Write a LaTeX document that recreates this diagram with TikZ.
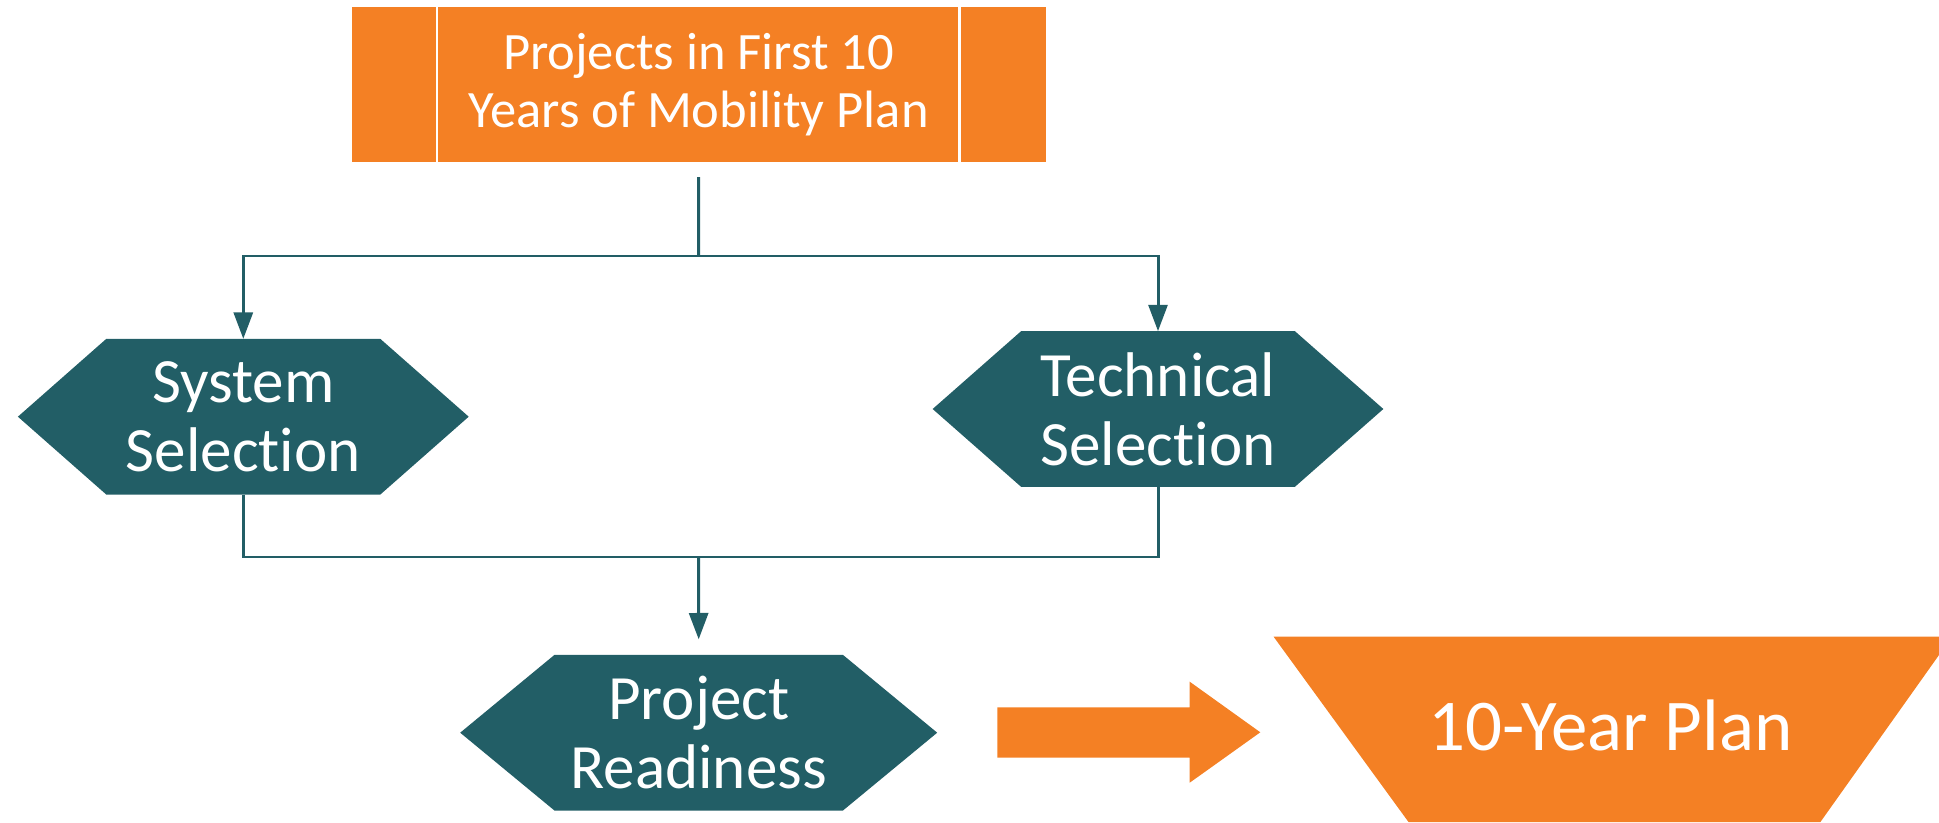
\documentclass[tikz,border=0pt]{standalone}
\usepackage{fontspec}
\setmainfont{Carlito}[Ligatures=NoCommon]
\usetikzlibrary{arrows.meta,backgrounds}
\definecolor{planorange}{RGB}{244,128,36}
\definecolor{planteal}{RGB}{34,94,102}
\begin{document}
\begin{tikzpicture}[
  procbox/.style={fill=planorange,text=white,align=center,inner sep=0pt,minimum width=13.884cm,minimum height=3.112cm,font=\fontsize{29.9}{32.7}\selectfont},
  hexbox/.style={text=white,align=center,inner sep=0pt,minimum height=3.1cm,font=\fontsize{35.9}{39.1}\selectfont},
  plantext/.style={text=white,inner sep=0pt,font=\fontsize{41.5}{45}\selectfont},
  flow/.style={draw=planteal,line width=1.7pt},
  flowarrow/.style={flow,-{Triangle[width=10.8pt,length=15pt]}}
]
\useasboundingbox (0.,0.) rectangle (38.78,16.44);
% boxes
\node [procbox] (proj) at (13.972,14.75) {Projects in First 10\\Years of Mobility Plan};
\draw [white,line width=1.6pt] ([xshift=1.716cm]proj.north west) -- ([xshift=1.716cm]proj.south west);
\draw [white,line width=1.6pt] ([xshift=-1.726cm]proj.north east) -- ([xshift=-1.726cm]proj.south east);
\node [hexbox,minimum width=5.466cm] (sys) at (4.866,8.106) {System\\Selection};
\node [hexbox,minimum width=5.46cm] (tech) at (23.16,8.26) {Technical\\Selection};
\node [hexbox,minimum width=5.754cm] (ready) at (13.974,1.786) {Project\\Readiness};
\begin{scope}[on background layer]
\fill [planteal] (sys.north west) -- (sys.north east) -- ([xshift=1.768cm]sys.east) -- (sys.south east) -- (sys.south west) -- ([xshift=-1.768cm]sys.west) -- cycle;
\fill [planteal] (tech.north west) -- (tech.north east) -- ([xshift=1.77cm]tech.east) -- (tech.south east) -- (tech.south west) -- ([xshift=-1.77cm]tech.west) -- cycle;
\fill [planteal] (ready.north west) -- (ready.north east) -- ([xshift=1.886cm]ready.east) -- (ready.south east) -- (ready.south west) -- ([xshift=-1.886cm]ready.west) -- cycle;
\end{scope}
% connectors
\coordinate (split) at (13.97,11.32);
\coordinate (join) at (13.97,5.3);
\draw [flow] ([yshift=-0.29cm]proj.south) -- (split);
\draw [flowarrow] (split) -| (sys.north);
\draw [flowarrow] (split) -| (tech.north);
\draw [flow] (sys.south) |- (join) -| (tech.south);
\draw [flowarrow] (join) -- ([yshift=0.31cm]ready.north);
% block arrow and plan
\fill [planorange] (19.946,2.294) -- (23.794,2.294) -- (23.794,2.806) -- (25.206,1.794) -- (23.794,0.786) -- (23.794,1.286) -- (19.946,1.286) -- cycle;
\begin{scope}
\clip (0.,0.) rectangle (38.78,16.44);
\fill [planorange] (25.472,3.706) -- (39.04,3.706) -- (36.408,0.) -- (28.17,0.) -- cycle;
\end{scope}
\node [plantext,anchor=base] (plan) at (32.21,1.44) {10-Year Plan};
\end{tikzpicture}
\end{document}
